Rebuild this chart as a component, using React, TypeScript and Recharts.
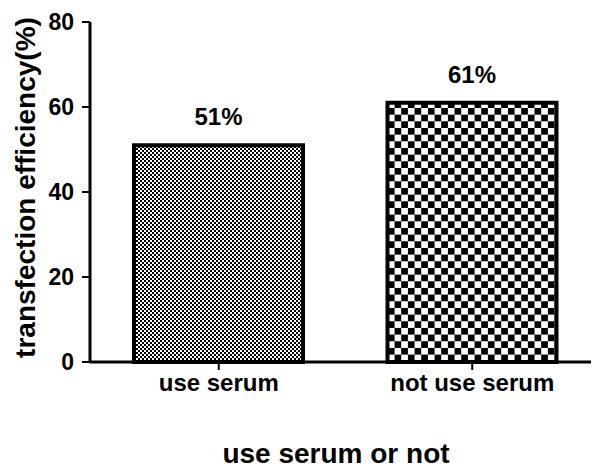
import React from "react";
import { BarChart, Bar, XAxis, YAxis, Cell, LabelList, Label } from "recharts";

const categories = ["use serum", "not use serum"];
const efficiency = [51, 61];
const valueLabels = ["51%", "61%"];
const yTicks = [0, 20, 40, 60, 80];
const patternIds = ["fineChecker", "coarseChecker"];

const data = categories.map((c, i) => ({ name: c, value: efficiency[i], label: valueLabels[i] }));

const FONT = "'Liberation Sans', Arial, sans-serif";

export default function App() {
  return (
    <div style={{ width: 591, height: 463, overflow: "hidden" }}>
      <BarChart
        width={591}
        height={463}
        data={data}
        margin={{ top: 14, right: 0, left: 0, bottom: 0 }}
        barCategoryGap={0}
      >
        <defs>
          <pattern id="fineChecker" patternUnits="userSpaceOnUse" width={4} height={4}>
            <rect x={0} y={0} width={4} height={4} fill="#fff" />
            <rect x={0} y={0} width={2} height={2} fill="#000" />
            <rect x={2} y={2} width={2} height={2} fill="#000" />
          </pattern>
          <pattern id="coarseChecker" patternUnits="userSpaceOnUse" width={13.33} height={13.33}>
            <rect x={0} y={0} width={13.33} height={13.33} fill="#fff" />
            <rect x={0} y={0} width={6.67} height={6.67} fill="#000" />
            <rect x={6.67} y={6.67} width={6.67} height={6.67} fill="#000" />
          </pattern>
        </defs>
        <XAxis
          dataKey="name"
          height={109}
          padding={{ left: 2, right: 0 }}
          axisLine={{ stroke: "#000", strokeWidth: 3 }}
          tickLine={{ stroke: "#000", strokeWidth: 2 }}
          tickSize={8}
          tickMargin={4}
          tick={{ fill: "#000", fontSize: 24, fontWeight: "bold", fontFamily: FONT }}
        >
          <Label
            content={() => (
              <text
                x={328}
                y={455}
                textAnchor="middle"
                fill="#000"
                fontSize={28}
                fontWeight="bold"
                fontFamily={FONT}
              >
                use serum or not
              </text>
            )}
          />
        </XAxis>
        <YAxis
          width={82}
          domain={[0, 80]}
          ticks={yTicks}
          interval={0}
          axisLine={{ stroke: "#000", strokeWidth: 3 }}
          tickLine={{ stroke: "#000", strokeWidth: 2 }}
          tickSize={8}
          tickMargin={8}
          tick={{ fill: "#000", fontSize: 23, fontWeight: "bold", fontFamily: FONT }}
        >
          <Label
            content={() => (
              <text
                x={27}
                y={179.5}
                transform="rotate(-90, 27, 179.5)"
                textAnchor="middle"
                fill="#000"
                fontSize={28}
                fontWeight="bold"
                fontFamily={FONT}
              >
                transfection efficiency(%)
              </text>
            )}
          />
        </YAxis>
        <Bar dataKey="value" barSize={169} isAnimationActive={false} stroke="#000" strokeWidth={4}>
          {data.map((d, i) => (
            <Cell key={d.name} fill={`url(#${patternIds[i]})`} stroke="#000" strokeWidth={4} />
          ))}
          <LabelList
            dataKey="label"
            position="top"
            offset={20}
            fill="#000"
            fontSize={24}
            fontWeight="bold"
            fontFamily={FONT}
          />
        </Bar>
      </BarChart>
    </div>
  );
}
